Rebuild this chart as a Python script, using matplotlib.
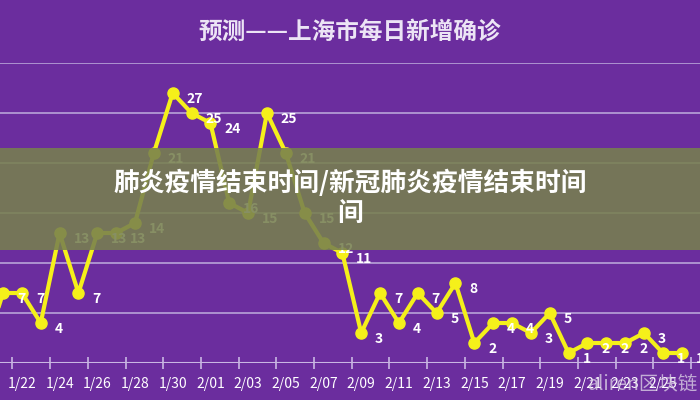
import matplotlib
matplotlib.use("Agg")
import matplotlib.pyplot as plt
from matplotlib.patches import Rectangle

plt.rcParams['font.family'] = ['Noto Sans CJK SC', 'DejaVu Sans']

dates = ["1/20","1/21","1/22","1/23","1/24","1/25","1/26","1/27","1/28","1/29","1/30","1/31",
         "2/01","2/02","2/03","2/04","2/05","2/06","2/07","2/08","2/09","2/10","2/11","2/12",
         "2/13","2/14","2/15","2/16","2/17","2/18","2/19","2/20","2/21","2/22","2/23","2/24",
         "2/25","2/26"]
values = [1,7,7,4,13,7,13,13,14,21,27,25,24,16,15,25,21,15,12,11,3,7,4,7,5,8,2,4,4,3,5,1,2,2,2,3,1,1]
title = "预测——上海市每日新增确诊"
banner = "肺炎疫情结束时间/新冠肺炎疫情结束时间\n间"

bg = "#6B2D9E"
fig = plt.figure(figsize=(7, 4), dpi=100, facecolor=bg)
ax = fig.add_axes([0, 0.0925, 1, 0.75], facecolor=bg)
x = list(range(len(values)))
ax.set_xlim(0.84, 37.97)
ax.set_ylim(0, 30)
for yv in [5, 10, 15, 20, 25, 30]:
    ax.axhline(yv, color="#b9a3d8", lw=1.2, zorder=1)
ax.axhline(0, color="#c9b6e3", lw=1.5, zorder=1)
ax.plot(x, values, color="#f5f01a", lw=3, marker="o", ms=8, zorder=3, clip_on=False)
for xi, v in zip(x, values):
    ax.annotate(str(v), (xi, v), xytext=(10, -4), textcoords="offset points",
                color="white", fontsize=10, fontweight="bold", va="center", zorder=4,
                annotation_clip=True)
ax.set_xticks([i + 0.5 for i in range(1, 38, 2)])
ax.set_xticks([i for i in range(2, 38, 2)], minor=True)
ax.set_xticklabels([])
ax.set_xticklabels([dates[i] for i in range(2, 38, 2)], minor=True)
ax.tick_params(axis="x", which="major", direction="inout", length=8, color="#c9b6e3", width=1.2)
ax.tick_params(axis="x", which="minor", length=0, labelcolor="white", labelsize=10, pad=10)
ax.set_yticks([])
for s in ax.spines.values():
    s.set_visible(False)

fig.text(0.5, 0.92, title, ha="center", va="center", color="#ece4f5", fontsize=17, fontweight="bold")
fig.add_artist(Rectangle((0, 0.375), 1, 0.255, transform=fig.transFigure,
                         facecolor="#77804f", alpha=0.88, zorder=10, edgecolor="none"))
fig.text(0.5, 0.503, banner, ha="center", va="center", color="white", fontsize=18.5,
         fontweight="bold", zorder=11, linespacing=1.15)
fig.text(0.84, 0.04, "aliren区块链", ha="left", va="center", color="#e0d8e8", fontsize=14,
         alpha=0.75, zorder=11)
fig.savefig("out.png", dpi=100, facecolor=bg)
